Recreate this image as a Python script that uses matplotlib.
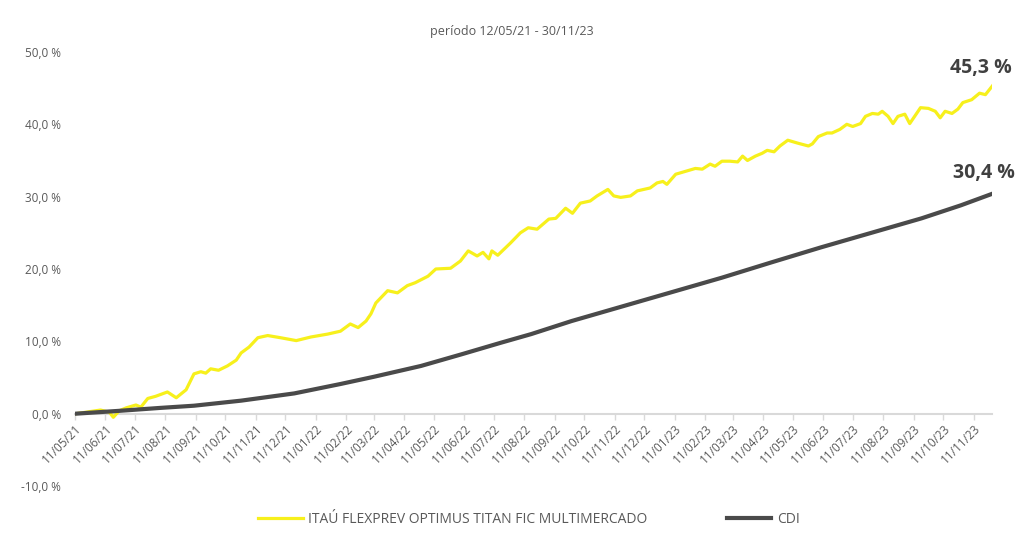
import matplotlib
matplotlib.use("Agg")
import matplotlib.pyplot as plt
import numpy as np
import pandas as pd

plt.rcParams['font.family'] = ['Open Sans', 'DejaVu Sans']

start = pd.Timestamp("2021-05-12")
end = pd.Timestamp("2023-11-30")

# fund series: days since start, accumulated return (%)
fund_days = [0, 15, 25, 34, 38, 44, 51, 61, 66, 73, 81, 93, 102, 112, 120, 127, 132, 137,
             145, 154, 163, 168, 176, 185, 195, 208, 224, 239, 256, 269, 279, 287, 295,
             300, 305, 317, 327, 337, 345, 358, 366, 381, 391, 399, 408, 414, 420, 423,
             429, 442, 452, 460, 469, 481, 488, 498, 505, 513, 523, 530, 541, 547, 554,
             564, 571, 584, 591, 597, 601, 610, 620, 630, 637, 645, 650, 657, 665, 673,
             678, 683, 691, 698, 703, 710, 716, 724, 734, 745, 749, 755, 764, 769, 777,
             784, 790, 798, 803, 810, 816, 820, 826, 831, 836, 843, 848, 853, 859, 867,
             874, 879, 884, 891, 897, 902, 911, 919, 925, 932]
fund_vals = [0.0, 0.3, 0.5, 0.2, -0.5, 0.4, 0.8, 1.2, 0.9, 2.1, 2.4, 3.0, 2.2, 3.3, 5.5, 5.8, 5.6, 6.2,
             6.0, 6.6, 7.4, 8.4, 9.2, 10.5, 10.8, 10.5, 10.1, 10.6, 11.0, 11.4, 12.4, 11.9, 12.8,
             13.8, 15.3, 17.0, 16.7, 17.7, 18.1, 19.0, 20.0, 20.1, 21.1, 22.5, 21.8, 22.3, 21.4, 22.5,
             21.9, 23.6, 25.0, 25.7, 25.5, 26.9, 27.0, 28.4, 27.7, 29.1, 29.4, 30.1, 31.0, 30.1, 29.9,
             30.1, 30.8, 31.2, 31.9, 32.1, 31.7, 33.1, 33.5, 33.9, 33.8, 34.5, 34.2, 34.9, 34.9, 34.8,
             35.6, 35.0, 35.6, 36.0, 36.4, 36.2, 37.0, 37.8, 37.4, 37.0, 37.3, 38.3, 38.8, 38.8, 39.3,
             40.0, 39.7, 40.1, 41.1, 41.5, 41.4, 41.8, 41.1, 40.1, 41.1, 41.4, 40.1, 41.1, 42.3, 42.2,
             41.8, 40.9, 41.8, 41.5, 42.1, 43.0, 43.4, 44.3, 44.1, 45.3]

cdi_days = [0, 45, 86, 120, 168, 222, 269, 303, 351, 392, 432, 463, 504, 555, 606, 657,
            707, 758, 809, 860, 900, 932]
cdi_vals = [0.0, 0.4, 0.8, 1.1, 1.8, 2.8, 4.1, 5.1, 6.6, 8.2, 9.8, 11.0, 12.8, 14.8, 16.8, 18.8,
            20.9, 23.0, 25.0, 27.0, 28.8, 30.4]

fund_name = "ITAÚ FLEXPREV OPTIMUS TITAN FIC MULTIMERCADO"
tick_dates = pd.date_range("2021-05-11", "2023-11-11", freq=pd.DateOffset(months=1))
tick_labels = [d.strftime("%d/%m/%y") for d in tick_dates]
y_ticks = [-10, 0, 10, 20, 30, 40, 50]

fund_x = start + pd.to_timedelta(fund_days, unit="D")
cdi_x = start + pd.to_timedelta(cdi_days, unit="D")

fig = plt.figure(figsize=(10.23, 5.47), dpi=100)
ax = fig.add_axes([0.0733, 0.1115, 0.8967, 0.7935])

# spine position first, it resets the ticks
for s in ["top", "right", "left"]:
    ax.spines[s].set_visible(False)
ax.spines["bottom"].set_position(("data", 0))
ax.spines["bottom"].set_color("#d9d9d9")
ax.spines["bottom"].set_linewidth(1.5)
ax.spines["bottom"].set_zorder(0)

ax.plot(fund_x, fund_vals, color="#f7f01c", lw=2.3, label=fund_name, solid_joinstyle="round")
ax.plot(cdi_x, cdi_vals, color="#4a4a4a", lw=3.0, label="CDI")

ax.set_xlim(start, end)
ax.set_ylim(-10, 50)
ax.set_yticks(y_ticks)
ax.set_yticklabels([f"{v:.1f}".replace(".", ",") + " %" for v in y_ticks])
ax.tick_params(axis="y", length=0, pad=10, labelsize=8.5, labelcolor="#595959")

ax.tick_params(axis="x", length=4, color="#d9d9d9", width=1, labelsize=8.5,
               labelcolor="#595959", pad=2)
ax.set_xticks(tick_dates)
ax.set_xticklabels(tick_labels, rotation=45, ha="right", rotation_mode="anchor")

fig.text(0.5, 0.942, "período 12/05/21 - 30/11/23", ha="center", va="center",
         fontsize=9, color="#595959")

ax.annotate(f"{fund_vals[-1]:.1f}".replace(".", ",") + " %", (fund_x[-1], fund_vals[-1]),
            xytext=(-8, 13), textcoords="offset points", ha="center", va="center",
            fontsize=14, fontweight="bold", color="#404040")
ax.annotate(f"{cdi_vals[-1]:.1f}".replace(".", ",") + " %", (cdi_x[-1], cdi_vals[-1]),
            xytext=(-6, 15), textcoords="offset points", ha="center", va="center",
            fontsize=14, fontweight="bold", color="#404040")

fig.legend(loc="center", bbox_to_anchor=(0.517, 0.05), ncol=2, frameon=False,
           fontsize=10, labelcolor="#595959", handlelength=3.2, handletextpad=0.4,
           columnspacing=5.7)

fig.savefig("out.png", dpi=100)
